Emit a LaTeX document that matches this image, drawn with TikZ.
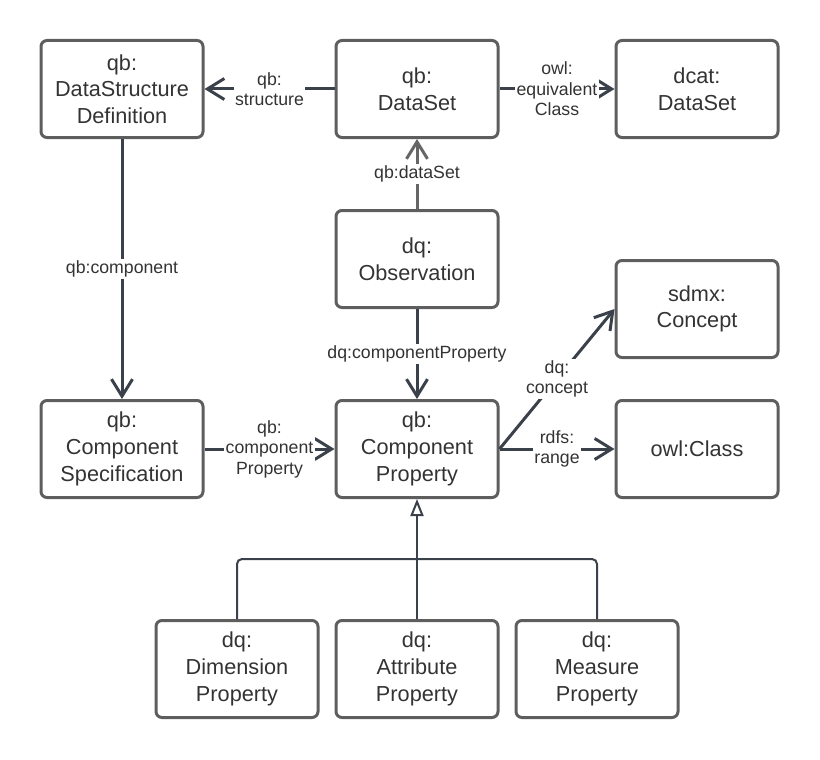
\documentclass[tikz,border=0pt]{standalone}
\usepackage{fontspec}
\setmainfont{Liberation Sans}
\usetikzlibrary{arrows.meta}
\definecolor{boxgray}{HTML}{5E5E5E}
\definecolor{txtgray}{HTML}{333333}
\definecolor{edgeslate}{HTML}{3A414A}
\definecolor{edgegray}{HTML}{666666}

\begin{document}
\begin{tikzpicture}[x = 1pt, y = -1pt,
                cls/.style = {draw = boxgray, line width = 3pt, rounded corners = 6pt, minimum width = 162pt, minimum height = 97pt, inner sep = 0pt, align = center, text = txtgray, font = \fontsize{21.7}{26.7}\selectfont},
                rel/.style = {edgeslate, line width = 3pt, -{Straight Barb[length = 17pt, width = 21pt]}},
                lbl/.style = {fill = white, text = txtgray, align = center, inner sep = 1.5pt, font = \fontsize{17.7}{20.5}\selectfont},
                gen/.style = {edgeslate, line width = 2pt, rounded corners = 5pt}]
                \useasboundingbox (0,0) rectangle (820,760);
                \node[cls] (dsd) at (122,89) {qb:\\DataStructure\\Definition};
                \node[cls] (dataset) at (417,89) {qb:\\DataSet};
                \node[cls] (dcat) at (697,89) {dcat:\\DataSet};
                \node[cls] (obs) at (417,259) {dq:\\Observation};
                \node[cls] (concept) at (697,309) {sdmx:\\Concept};
                \node[cls] (compspec) at (122,449) {qb:\\Component\\Specification};
                \node[cls] (compprop) at (417,449) {qb:\\Component\\Property};
                \node[cls] (owlclass) at (697,449) {owl:Class};
                \node[cls] (dimprop) at (237,669) {dq:\\Dimension\\Property};
                \node[cls] (attrprop) at (417,669) {dq:\\Attribute\\Property};
                \node[cls] (measprop) at (597,669) {dq:\\Measure\\Property};
                \coordinate (genjoin) at (417,559);
                \draw[rel] (dataset) -- node[lbl] {qb:\\structure} (dsd);
                \draw[rel] (dataset) -- node[lbl] {owl:\\equivalent\\Class} (dcat);
                \draw[rel, edgegray] (obs) -- node[lbl] {qb:dataSet} (dataset);
                \draw[rel] (dsd) -- node[lbl] {qb:component} (compspec);
                \draw[rel] (obs) -- node[lbl] {dq:componentProperty} (compprop);
                \draw[rel] (compspec) -- node[lbl] {qb:\\component\\Property} (compprop);
                \draw[rel] (compprop.east) -- node[lbl] {dq:\\concept} (concept.west);
                \draw[rel] (compprop.east) -- node[lbl] {rdfs:\\range} (owlclass.west);
                \draw[gen] (dimprop.north) |- (genjoin);
                \draw[gen] (measprop.north) |- (genjoin);
                \draw[gen, -{Triangle[open, length = 17pt, width = 13pt, fill = white]}] (attrprop.north) -- (compprop.south);
\end{tikzpicture}
\end{document}
